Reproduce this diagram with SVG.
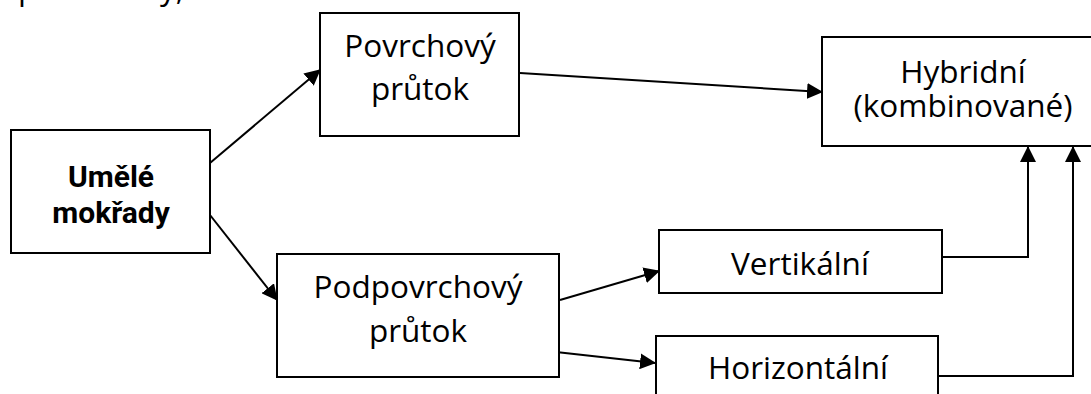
<svg xmlns="http://www.w3.org/2000/svg" width="1091" height="394" viewBox="0 0 1091 394">
<defs>
<style>
.box{fill:#fff;stroke:#000;stroke-width:2}
.t{font-family:"Open Sans","Noto Sans",sans-serif;font-size:31.5px;fill:#000;text-anchor:middle}
.b{font-family:Roboto,"Liberation Sans",sans-serif;font-weight:bold;font-size:30px;fill:#000;text-anchor:middle}
.c{fill:none;stroke:#000;stroke-width:2}
</style>
<marker id="ah" markerUnits="userSpaceOnUse" markerWidth="16" markerHeight="16" viewBox="0 0 16 16" refX="15" refY="8" orient="auto">
<path d="M0,0 L16,8 L0,16 Z" fill="#000"/>
</marker>
</defs>
<text class="t" x="18" y="0" style="text-anchor:start">p</text>
<text class="t" x="160" y="0" style="text-anchor:start">y,</text>
<g id="connectors">
<line class="c" x1="210" y1="163" x2="320" y2="70" marker-end="url(#ah)"/>
<line class="c" x1="210" y1="215" x2="277" y2="300" marker-end="url(#ah)"/>
<line class="c" x1="520" y1="73" x2="822" y2="92" marker-end="url(#ah)"/>
<line class="c" x1="560" y1="300" x2="659" y2="271" marker-end="url(#ah)"/>
<line class="c" x1="556" y1="352" x2="655" y2="363" marker-end="url(#ah)"/>
<polyline class="c" points="942,257 1028,257 1028,147" marker-end="url(#ah)"/>
<polyline class="c" points="938,376 1073,376 1073,147" marker-end="url(#ah)"/>
</g>
<g id="umele">
<rect class="box" x="11" y="130" width="199" height="123"/>
<text class="b" x="111" y="187">Umělé</text>
<text class="b" x="111" y="223">mokřady</text>
</g>
<g id="povrchovy">
<rect class="box" x="320" y="13" width="199" height="123"/>
<text class="t" x="420" y="57">Povrchový</text>
<text class="t" x="420" y="100">průtok</text>
</g>
<g id="hybridni">
<rect class="box" x="822" y="37" width="280" height="109"/>
<text class="t" x="963" y="83">Hybridní</text>
<text class="t" x="963" y="117">(kombinované)</text>
</g>
<g id="podpovrchovy">
<rect class="box" x="277" y="254" width="282" height="123"/>
<text class="t" x="418" y="298">Podpovrchový</text>
<text class="t" x="418" y="342">průtok</text>
</g>
<g id="vertikalni">
<rect class="box" x="659" y="230" width="283" height="63"/>
<text class="t" x="800" y="275">Vertikální</text>
</g>
<g id="horizontalni">
<rect class="box" x="656" y="336" width="282" height="80"/>
<text class="t" x="798" y="379">Horizontální</text>
</g>
</svg>
